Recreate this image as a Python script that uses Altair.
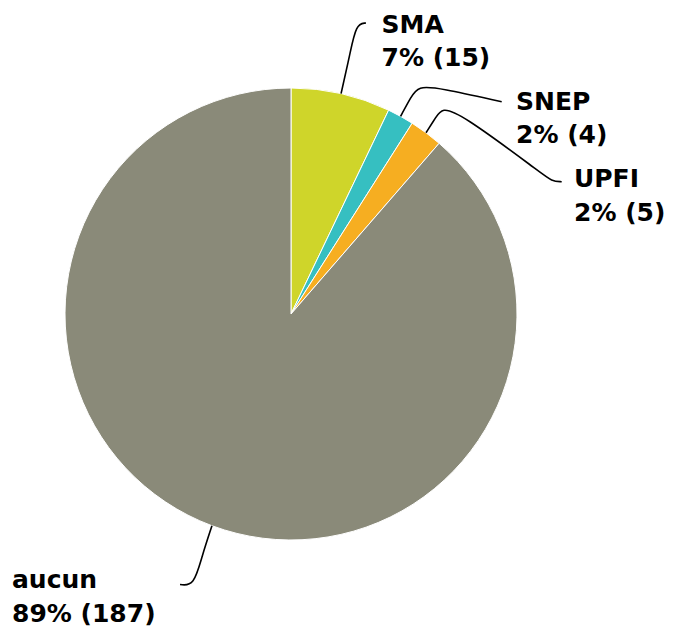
import math
import altair as alt
import pandas as pd

# ---- data ----
labels = ["SMA", "SNEP", "UPFI", "aucun"]
counts = [15, 4, 5, 187]
colors = ["#cfd52a", "#36bfc1", "#f6ae21", "#8a8a79"]

# ---- layout constants (screen pixels) ----
W, H = 657, 620
OFF = 8
CX, CY, R = 291, 314, 226

label_pos = {"SMA": (381.5, 32.5), "SNEP": (516, 109.5), "UPFI": (574, 187.3), "aucun": (12, 588.3)}
# leader-line control points after the start point on the pie edge
leader_ctrl = {
    "SMA": [(350, 54), (356, 24), (366, 23)],
    "SNEP": [(411, 97), (418, 86), (440, 88), (501.7, 101.7)],
    "UPFI": [(436, 117), (442, 108), (460, 113), (540, 172), (552, 181.5), (561.7, 181.7)],
    "aucun": [(202, 556), (194, 586), (180, 584.5)],
}

total = sum(counts)
pie_df = pd.DataFrame({"label": labels, "value": counts, "order": list(range(len(labels)))})

text_rows, line_rows = [], []
cum = 0
for lab, v in zip(labels, counts):
    pct = round(v / total * 100)
    lx, ly = label_pos[lab]
    text_rows.append({"label": lab, "txt": f"{lab}\n{pct}% ({v})", "x": lx, "y": ly})
    mid = (cum + v / 2) / total * 2 * math.pi
    cum += v
    pts = [(CX + R * math.sin(mid), CY - R * math.cos(mid))] + leader_ctrl[lab]
    for i, (px, py) in enumerate(pts):
        line_rows.append({"label": lab, "seq": i, "x": px, "y": py})

text_df = pd.DataFrame(text_rows)
line_df = pd.DataFrame(line_rows)

xs = alt.Scale(domain=[OFF, OFF + W], range=[0, W])
ys = alt.Scale(domain=[OFF, OFF + H], range=[0, H])

pie = alt.Chart(pie_df).mark_arc(outerRadius=R, stroke="white", strokeWidth=1).encode(
    theta=alt.Theta("value:Q", stack=True),
    order=alt.Order("order:Q"),
    color=alt.Color("label:N", scale=alt.Scale(domain=labels, range=colors), legend=None),
    x=alt.value(CX - OFF),
    y=alt.value(CY - OFF),
)

lines = alt.Chart(line_df).mark_line(interpolate="basis", color="black", strokeWidth=1.6).encode(
    x=alt.X("x:Q", scale=xs, axis=None),
    y=alt.Y("y:Q", scale=ys, axis=None),
    detail="label:N",
    order="seq:Q",
)

texts = alt.Chart(text_df).mark_text(
    align="left", baseline="alphabetic", lineBreak="\n", lineHeight=33.3,
    font="DejaVu Sans", fontWeight="bold", fontSize=25, color="black",
).encode(
    x=alt.X("x:Q", scale=xs, axis=None),
    y=alt.Y("y:Q", scale=ys, axis=None),
    text="txt:N",
)

chart = alt.layer(pie, lines, texts).properties(
    width=W, height=H, autosize=alt.AutoSizeParams(type="none"), padding=0,
).configure_view(stroke=None)

chart.save("out.html", embed_options={"renderer": "svg", "actions": False})
